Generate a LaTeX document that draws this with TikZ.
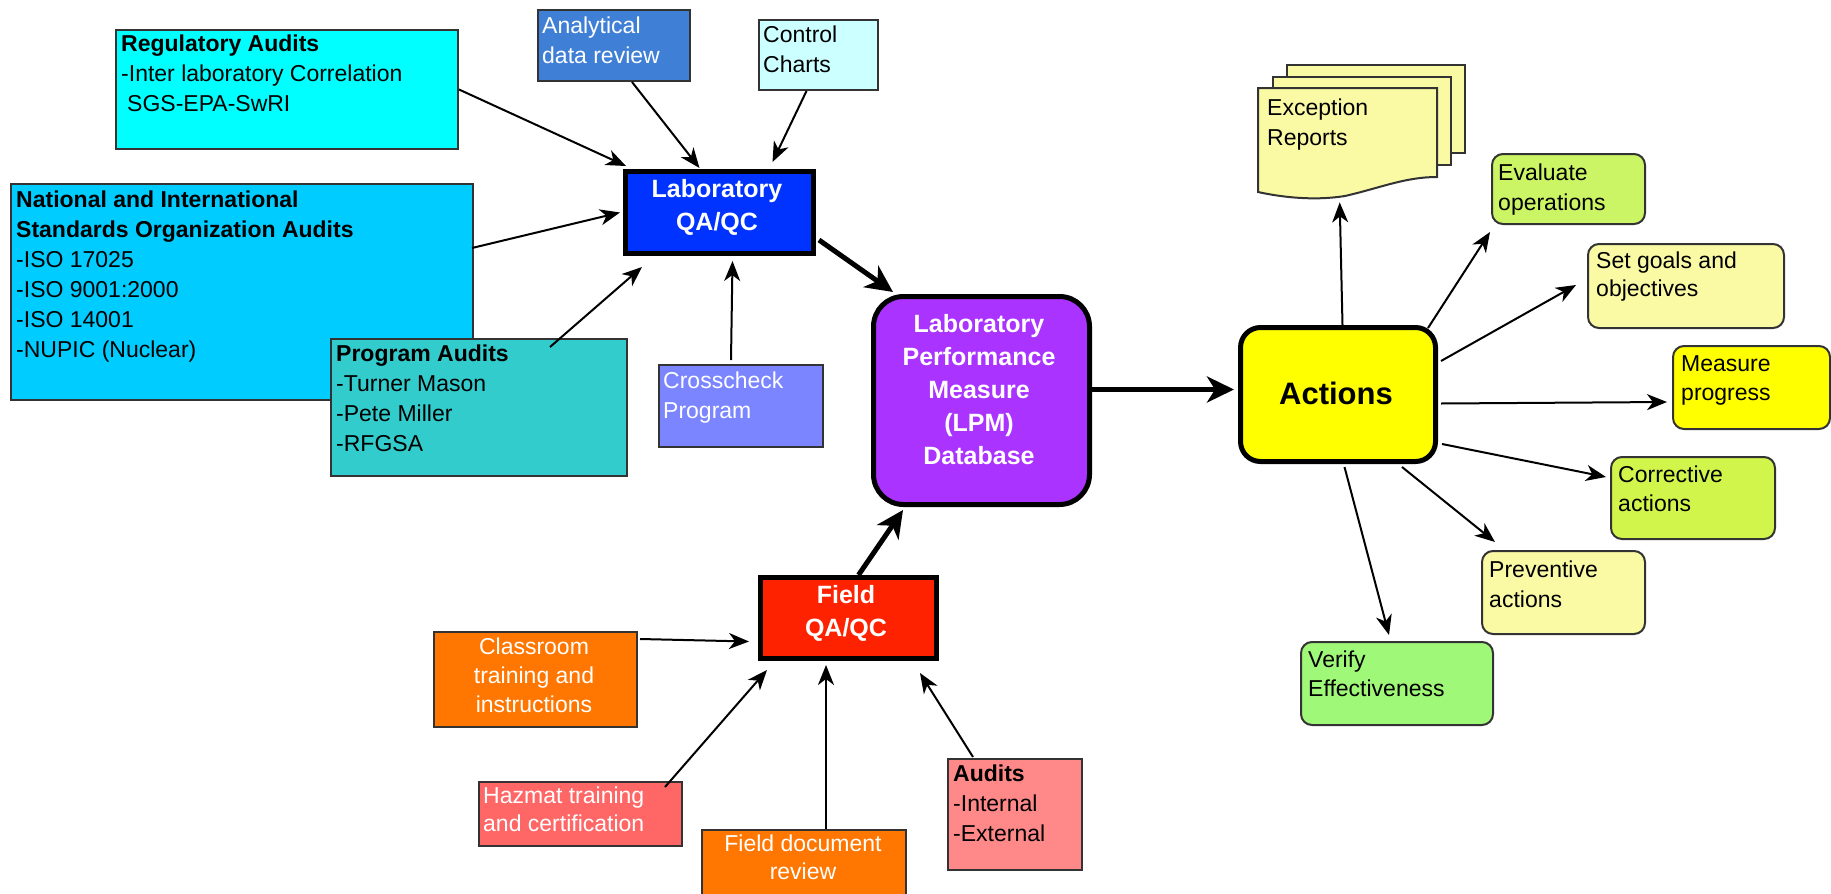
\documentclass[tikz,border=0pt]{standalone}
\usepackage{fontspec}
\setmainfont{Liberation Sans}
\usetikzlibrary{arrows.meta,calc}
\definecolor{boxline}{HTML}{333333}
\definecolor{cReg}{HTML}{00FFFF}
\definecolor{cNat}{HTML}{00CCFF}
\definecolor{cProg}{HTML}{33CCCC}
\definecolor{cAna}{HTML}{3F7FD6}
\definecolor{cCtl}{HTML}{CCFFFF}
\definecolor{cLab}{HTML}{0033FF}
\definecolor{cCross}{HTML}{7A85FF}
\definecolor{cLpm}{HTML}{AA33FF}
\definecolor{cField}{HTML}{FF2200}
\definecolor{cOrange}{HTML}{FF7700}
\definecolor{cHaz}{HTML}{FF6666}
\definecolor{cAud}{HTML}{FF8888}
\definecolor{cAct}{HTML}{FFFF00}
\definecolor{cPale}{HTML}{FAFAA5}
\definecolor{cEval}{HTML}{CCF566}
\definecolor{cCorr}{HTML}{D2F54B}
\definecolor{cVer}{HTML}{A0F878}
\newcommand\fnorm{\fontsize{23}{30}\selectfont}
\newcommand\fnine{\fontsize{23}{29}\selectfont}
\newcommand\feight{\fontsize{23}{28}\selectfont}
\newcommand\fbig{\fontsize{25}{33}\selectfont\bfseries}
\newcommand\fact{\fontsize{31}{36}\selectfont\bfseries}
\newcommand\bx[6]{\node[#6, minimum width={#4-#2}, minimum height={#5-#3}] (#1) at (#2,#3) {};}
\begin{document}
\begin{tikzpicture}[x=1pt,y=-1pt,
  box/.style={draw=boxline, line width=2pt, anchor=north west, inner sep=0pt},
  heavybox/.style={draw=black, line width=5pt, anchor=north west, inner sep=0pt},
  txt/.style={inner sep=0pt, anchor=north west, align=left, font=\fnorm},
  ctxt/.style={inner sep=0pt, anchor=north, align=center, font=\fnorm},
  arr/.style={draw=black, line width=2pt, -{Stealth[length=20pt,width=16pt,inset=6pt]}},
  bigarr/.style={draw=black, line width=5pt, -{Stealth[length=27pt,width=26pt,inset=8pt]}},
  doc/.style={draw=boxline, line width=2pt, fill=cPale}]
\fill[white] (0,0) rectangle (1831,894);
\useasboundingbox (0,0) rectangle (1831,894);

% left boxes
\bx{reg}{115}{29}{457}{148}{box, fill=cReg}
\bx{ana}{537}{9}{689}{80}{box, fill=cAna}
\bx{ctl}{758}{19}{877}{89}{box, fill=cCtl}
\bx{nat}{10}{183}{472}{399}{box, fill=cNat}
\bx{prog}{330}{338}{626}{475}{box, fill=cProg}
\bx{cross}{658}{364}{822}{446}{box, fill=cCross}
\bx{lab}{623}{169}{811}{251}{heavybox, fill=cLab}
\bx{lpm}{871}{294}{1087}{502}{heavybox, fill=cLpm, rounded corners=30pt}
\bx{field}{758}{575}{934}{656}{heavybox, fill=cField}
\bx{cls}{433}{631}{636}{726}{box, fill=cOrange}
\bx{haz}{478}{781}{681}{845}{box, fill=cHaz}
\bx{fdoc}{701}{829}{905}{905}{box, fill=cOrange}
\bx{aud}{947}{758}{1081}{869}{box, fill=cAud}
% right boxes
\bx{act}{1238}{325}{1433}{459}{heavybox, fill=cAct, rounded corners=20pt}
\bx{eval}{1491}{153}{1644}{223}{box, fill=cEval, rounded corners=11pt}
\bx{goals}{1587}{243}{1783}{327}{box, fill=cPale, rounded corners=11pt}
\bx{meas}{1672}{345}{1829}{428}{box, fill=cAct, rounded corners=11pt}
\bx{corr}{1610}{456}{1774}{538}{box, fill=cCorr, rounded corners=11pt}
\bx{prev}{1481}{550}{1644}{633}{box, fill=cPale, rounded corners=11pt}
\bx{ver}{1300}{641}{1492}{724}{box, fill=cVer, rounded corners=11pt}

% exception reports document stack
\draw[doc] (1287,65) rectangle (1465,153);
\draw[doc] (1273,77) rectangle (1451,165);
\draw[doc] (1258,88) -- (1437,88) -- (1437,177)
  .. controls (1405,177) and (1380,188) .. (1345,196)
  .. controls (1320,200) and (1290,199) .. (1258,192) -- cycle;
\node[anchor=north west, inner sep=0pt, minimum width=179, minimum height=109] (exc) at (1258,88) {};

% texts
\node[txt] (regt) at (121,30) {\strut\textbf{Regulatory Audits}\\-Inter laboratory Correlation\\\hspace*{6pt}SGS-EPA-SwRI};
\node[txt, text=white] (anat) at (542,12) {\strut Analytical\\data review};
\node[txt] (ctlt) at (763,21) {\strut Control\\Charts};
\node[txt] (natt) at (16,186) {\strut\textbf{National and International}\\\textbf{Standards Organization Audits}\\-ISO 17025\\-ISO 9001:2000\\-ISO 14001\\-NUPIC (Nuclear)};
\node[txt] (progt) at (336,340) {\strut\textbf{Program Audits}\\-Turner Mason\\-Pete Miller\\-RFGSA};
\node[txt, text=white] (crosst) at (663,367) {\strut Crosscheck\\Program};
\node[ctxt, font=\fbig, text=white] (labt) at (717,174.5) {\strut Laboratory\\QA/QC};
\node[ctxt, font=\fbig, text=white] (lpmt) at (979,309.5) {\strut Laboratory\\Performance\\Measure\\(LPM)\\Database};
\node[ctxt, font=\fbig, text=white] (fieldt) at (846,580.5) {\strut Field\\QA/QC};
\node[ctxt, font=\fnine, text=white] (clst) at (534,634) {\strut Classroom\\training and\\instructions};
\node[txt, font=\feight, text=white] (hazt) at (483,784) {\strut Hazmat training\\and certification};
\node[ctxt, font=\feight, text=white] (fdoct) at (803,832) {\strut Field document\\review};
\node[txt] (audt) at (953,760) {\strut\textbf{Audits}\\-Internal\\-External};
\node[inner sep=0pt, font=\fact] (actt) at (1336,393) {Actions};
\node[txt] (exct) at (1267,94) {\strut Exception\\Reports};
\node[txt] (evalt) at (1498,159) {\strut Evaluate\\operations};
\node[txt, font=\feight] (goalst) at (1596,249) {\strut Set goals and\\objectives};
\node[txt, font=\fnine] (meast) at (1681,351) {\strut Measure\\progress};
\node[txt, font=\fnine] (corrt) at (1618,462) {\strut Corrective\\actions};
\node[txt] (prevt) at (1489,556) {\strut Preventive\\actions};
\node[txt, font=\fnine] (vert) at (1308,647) {\strut Verify\\Effectiveness};

% connectors into Laboratory QA/QC
\draw[arr] (reg.east) -- ($(lab.north west)+(3,-3)$);
\draw[arr] ($(ana.south)+(18,0)$) -- ($(lab.north)+(-20,-1)$);
\draw[arr] ($(ctl.south)+(-12,0)$) -- ($(lab.north)+(53,-7)$);
\draw[arr] ($(nat.north east)+(-2,65)$) -- ($(lab.west)+(-3,0)$);
\draw[arr] ($(prog.north west)+(220,9)$) -- ($(lab.south west)+(19,11)$);
\draw[arr] ($(cross.north)+(-10,-4)$) -- ($(lab.south)+(13,5)$);
% to LPM
\draw[bigarr] ($(lab.south east)+(3,-16)$) -- ($(lpm.north west)+(22,-2)$);
\draw[bigarr] ($(field.north)+(10,0)$) -- ($(lpm.south west)+(32,3)$);
% into Field QA/QC
\draw[arr] ($(cls.north east)+(2,8)$) -- ($(field.west)+(-9,23.5)$);
\draw[arr] ($(haz.north east)+(-18,6)$) -- ($(field.south west)+(9,9)$);
\draw[arr] ($(fdoc.north west)+(125,0)$) -- ($(field.south west)+(68,4)$);
\draw[arr] ($(aud.north west)+(26,-1)$) -- ($(field.south east)+(-19,12)$);
% LPM to Actions
\draw[bigarr] ($(lpm.east)+(0,-11)$) -- ($(act.west)+(-4,-5)$);
% from Actions
\draw[arr] ($(act.north)+(4.5,0)$) -- ($(exc.south)+(-8,5)$);
\draw[arr] ($(act.north east)+(-10,3)$) -- ($(eval.south west)+(-1,7)$);
\draw[arr] ($(act.north east)+(3,36)$) -- ($(goals.west)+(-11,-1)$);
\draw[arr] ($(act.east)+(3,9)$) -- ($(meas.west)+(-5,14.5)$);
\draw[arr] ($(act.south east)+(4,-20)$) -- ($(corr.north west)+(-4,21)$);
\draw[arr] ($(act.south east)+(-36,3)$) -- ($(prev.north west)+(14,-8)$);
\draw[arr] ($(act.south)+(6.5,3)$) -- ($(ver.north west)+(89,-6)$);
\end{tikzpicture}
\end{document}
